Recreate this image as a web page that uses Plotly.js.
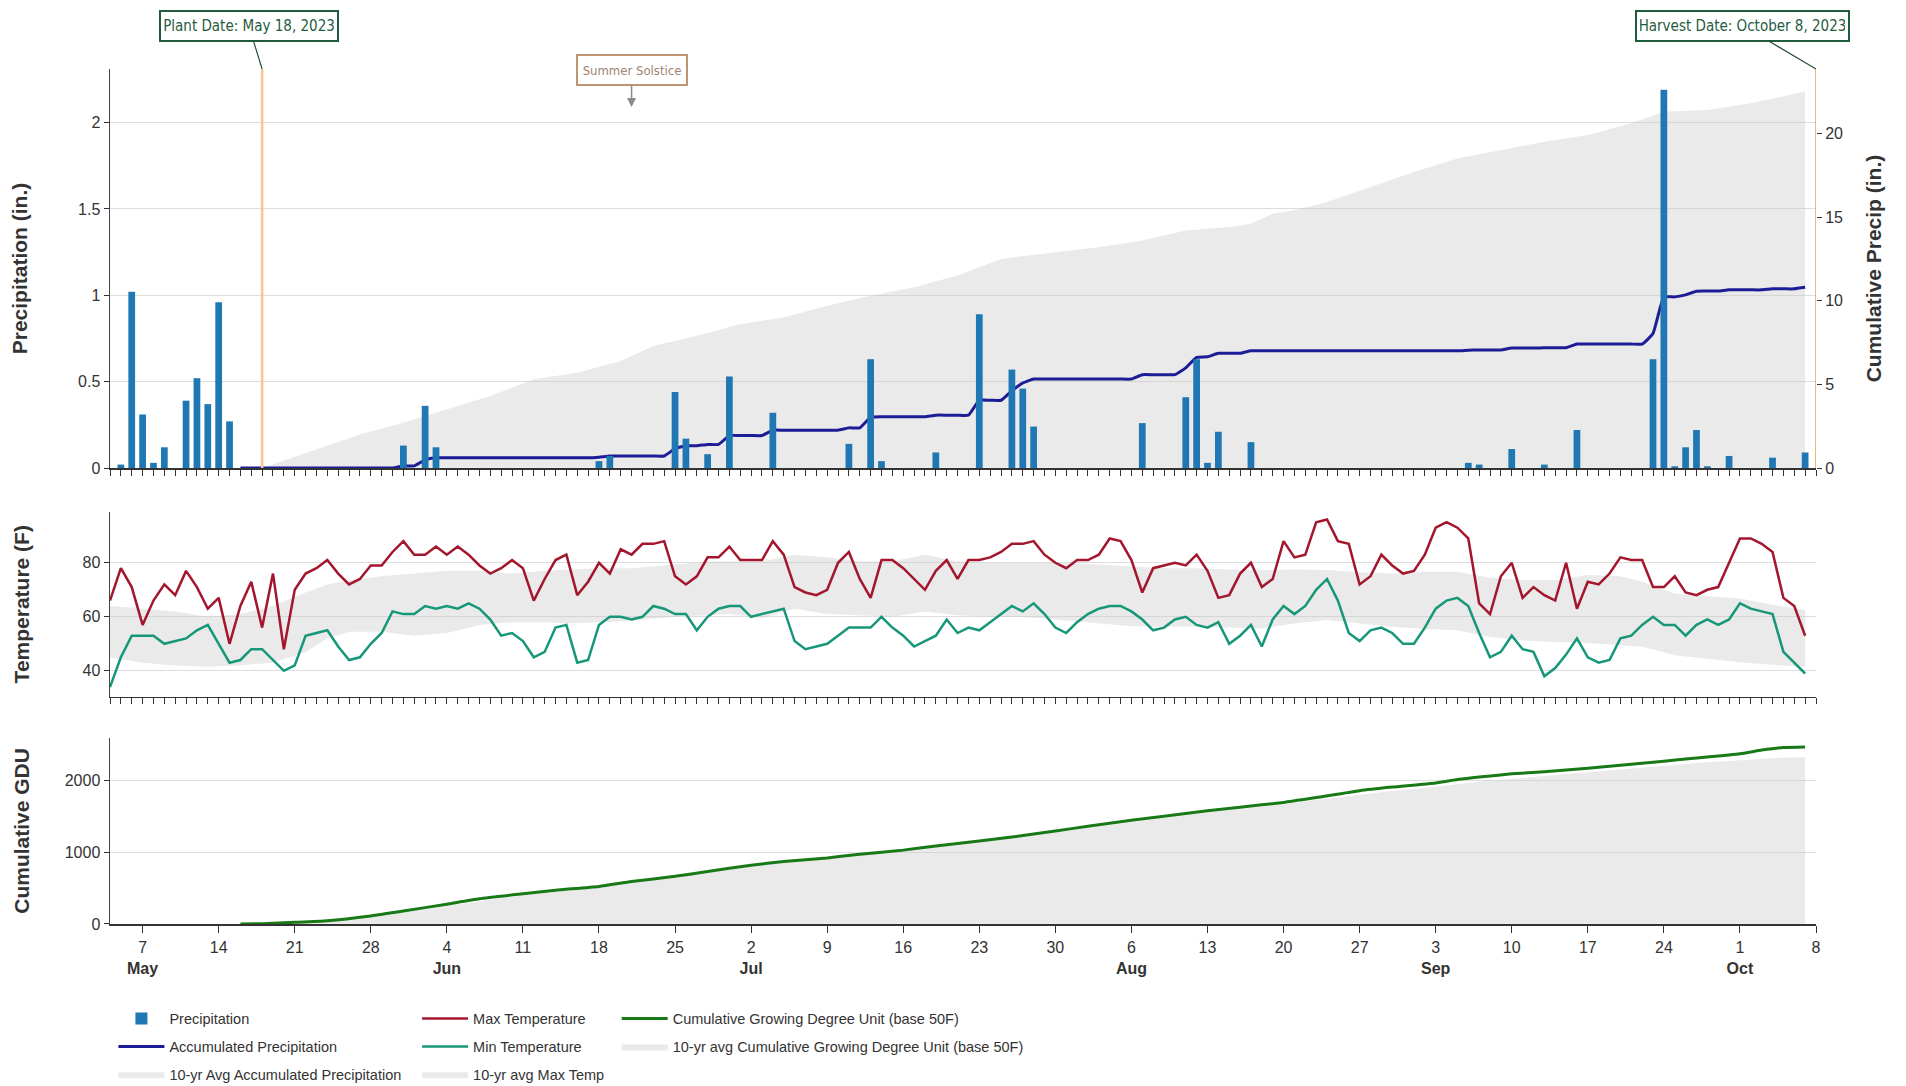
<!DOCTYPE html>
<html><head><meta charset="utf-8">
<script src="https://cdn.plot.ly/plotly-3.0.1.min.js"></script>
<style>html,body{margin:0;padding:0;background:#fff;}#chart{width:1906px;height:1086px;}</style>
</head><body><div id="chart"></div>
<script>
// ---------------- DATA ----------------
const seasonStart = '2023-05-04';   // day offset 0
const plantDate = '2023-05-18';
const harvestDate = '2023-10-08';
const solsticeDate = '2023-06-21';
const axisEnd = '2023-10-08';

// Daily precipitation (in.), rainy days only
const precipDates = ['2023-05-05','2023-05-06','2023-05-07','2023-05-08','2023-05-09','2023-05-11','2023-05-12','2023-05-13','2023-05-14','2023-05-15',
  '2023-05-31','2023-06-02','2023-06-03','2023-06-18','2023-06-19','2023-06-25','2023-06-26','2023-06-28','2023-06-30',
  '2023-07-04','2023-07-11','2023-07-13','2023-07-14','2023-07-19','2023-07-23','2023-07-26','2023-07-27','2023-07-28',
  '2023-08-07','2023-08-11','2023-08-12','2023-08-13','2023-08-14','2023-08-17',
  '2023-09-06','2023-09-07','2023-09-10','2023-09-13','2023-09-16','2023-09-23','2023-09-24','2023-09-25','2023-09-26','2023-09-27','2023-09-28','2023-09-30',
  '2023-10-04','2023-10-07'];
const precipValues = [0.02,1.02,0.31,0.03,0.12,0.39,0.52,0.37,0.96,0.27,
  0.13,0.36,0.12,0.04,0.07,0.44,0.17,0.08,0.53,
  0.32,0.14,0.63,0.04,0.09,0.89,0.57,0.46,0.24,
  0.26,0.41,0.63,0.03,0.21,0.15,
  0.03,0.02,0.11,0.02,0.22,0.63,2.19,0.01,0.12,0.22,0.01,0.07,
  0.06,0.09];

// Accumulated precipitation (in.), daily from day offset 12 (May 16)
const accumStartOffset = 12;
const accumPrecip = [
  0,0,0,0,0,0,0,0,0,0,0,0,0,0,0,
  0.13,0.13,0.49,0.61,
  0.61,0.61,0.61,0.61,0.61,0.61,0.61,0.61,0.61,0.61,0.61,0.61,0.61,0.61,
  0.65,0.72,0.72,0.72,0.72,0.72,0.72,
  1.16,1.33,1.33,1.41,1.41,1.94,1.94,1.94,1.94,
  2.26,2.26,2.26,2.26,2.26,2.26,2.26,
  2.40,2.40,3.03,3.07,3.07,3.07,3.07,3.07,3.16,3.16,3.16,3.16,
  4.05,4.05,4.05,4.62,5.08,5.32,5.32,5.32,5.32,5.32,5.32,5.32,5.32,5.32,5.32,
  5.58,5.58,5.58,5.58,5.99,6.62,6.65,6.86,6.86,6.86,7.01,
  7.01,7.01,7.01,7.01,7.01,7.01,7.01,7.01,7.01,7.01,7.01,7.01,7.01,7.01,7.01,7.01,7.01,7.01,7.01,
  7.04,7.06,7.06,7.06,7.17,7.17,7.17,7.19,7.19,7.19,7.41,7.41,7.41,7.41,7.41,7.41,7.41,
  8.04,10.22,10.23,10.35,10.57,10.58,10.58,10.65,10.65,10.65,10.65,10.71,10.71,10.71,10.80];

// 10-yr average accumulated precipitation (in.)
const avgAccumDays = [14,19,23,27,31,35,39,43,47,50,54,58,62,66,70,74,78,82,87,91,95,99,103,105,107,109,112,116,120,124,128,132,136,140,143,147,151,156];
const avgAccumValues = [0,1.1,2.0,2.7,3.5,4.3,5.3,5.7,6.4,7.3,7.9,8.6,9.0,9.7,10.3,10.8,11.5,12.5,12.9,13.2,13.6,14.2,14.4,14.6,15.2,15.4,15.9,16.8,17.7,18.5,19.0,19.5,19.9,20.6,21.3,21.4,21.8,22.5];

// Daily max / min temperature (F), from day offset 0 (May 4) to 156 (Oct 7)
const maxTemp = [66,78,71,57,66,72,68,77,71,63,67,50,64,73,56,76,48,70,76,78,
  81,76,72,74,79,79,84,88,83,83,86,83,86,83,79,76,78,81,78,66,
  74,81,83,68,73,80,76,85,83,87,87,88,75,72,75,82,82,86,81,81,
  81,88,83,71,69,68,70,80,84,74,67,81,81,78,74,70,77,81,74,81,
  81,82,84,87,87,88,83,80,78,81,81,83,89,88,81,69,78,79,80,79,
  83,77,67,68,76,80,71,74,88,82,83,95,96,88,87,72,75,83,79,76,
  77,83,93,95,93,89,65,61,75,80,67,71,68,66,80,63,73,72,76,82,
  81,81,71,71,75,69,68,70,71,80,89,89,87,84,67,64,53];
const minTemp = [34,45,53,53,53,50,51,52,55,57,50,43,44,48,48,44,40,42,53,54,
  55,49,44,45,50,54,62,61,61,64,63,64,63,65,63,59,53,54,51,45,
  47,56,57,43,44,57,60,60,59,60,64,63,61,61,55,60,63,64,64,60,
  61,62,63,51,48,49,50,53,56,56,56,60,56,53,49,51,53,59,54,56,
  55,58,61,64,62,65,61,56,54,58,61,63,64,64,62,59,55,56,59,60,
  57,56,58,50,53,57,49,59,64,61,64,70,74,66,54,51,55,56,54,50,
  50,56,63,66,67,64,54,45,47,53,48,47,38,41,46,52,45,43,44,52,
  53,57,60,57,57,53,57,59,57,59,65,63,62,61,47,43,39];

// 10-yr average max / min temperature band (F)
const avgTempDays = [0,3,6,9,12,15,18,20,22,25,28,31,34,37,40,42,45,48,52,55,57,60,63,66,69,72,75,78,81,84,87,90,94,97,100,103,106,109,112,115,118,121,124,127,130,133,136,139,141,144,147,150,153,156];
const avgMaxTemp = [64,63,62,60,61,64,69,72,73.5,75,76,77,77,76,77,77.5,78,78,79.5,80.5,80.5,80.5,83,82,80.5,80.5,83,80.5,80,80,80,79.5,78.5,78,78,77.5,77.3,77.5,77.3,76.5,76,76.7,76.7,74.5,73.6,73.6,75.5,75,73,68.6,67.6,66.8,64.5,62.5];
const avgMinTemp = [45,43,42,41.5,42,43,47,52,54.5,54.5,53,54,57,58,58,57.5,58,58.5,60,60.5,61,59.5,63,61,60.6,60,62,60.6,60,60,59,58,56.5,56.3,56.3,56,55.7,57.5,58.8,57.5,56.3,55.5,55,52.5,51.2,50.7,50.3,49.5,48.9,45.8,44.5,43.2,42.2,41.5];

// Cumulative GDU (base 50F) and 10-yr average
const gduDays = [12,14,17,20,24,27,31,34,38,41,45,48,52,55,59,62,66,69,73,76,80,83,87,90,94,97,101,104,108,111,115,118,122,124,126,129,132,136,139,143,146,150,152,154,156];
const gduValues = [0,5,23,45,112,180,276,350,420,470,523,590,663,730,818,870,920,970,1028,1085,1154,1210,1294,1360,1444,1500,1575,1625,1692,1760,1855,1905,1963,2010,2045,2089,2120,2168,2210,2266,2310,2369,2420,2455,2463];
const avgGduDays = [14,17,20,24,27,31,34,38,41,45,48,52,55,59,62,66,69,73,76,80,83,87,90,94,97,101,104,108,111,115,118,122,124,126,129,132,136,139,143,146,150,152,154,156];
const avgGduValues = [0,15,40,95,160,250,320,400,450,510,570,645,710,800,860,910,960,1020,1075,1140,1200,1280,1340,1420,1480,1550,1600,1665,1725,1800,1850,1910,1950,1980,2020,2060,2110,2150,2200,2240,2280,2300,2315,2325];

// Axis ticks
const precipTicks = [0,0.5,1,1.5,2];
const cumPrecipTicks = [0,5,10,15,20];
const tempTicks = [40,60,80];
const gduTicks = [0,1000,2000];
const weekTickDates = ['2023-05-07','2023-05-14','2023-05-21','2023-05-28','2023-06-04','2023-06-11','2023-06-18','2023-06-25','2023-07-02','2023-07-09','2023-07-16','2023-07-23','2023-07-30','2023-08-06','2023-08-13','2023-08-20','2023-08-27','2023-09-03','2023-09-10','2023-09-17','2023-09-24','2023-10-01','2023-10-08'];
const weekTickLabels = ['7<br><b>May</b>','14','21','28','4<br><b>Jun</b>','11','18','25','2<br><b>Jul</b>','9','16','23','30','6<br><b>Aug</b>','13','20','27','3<br><b>Sep</b>','10','17','24','1<br><b>Oct</b>','8'];

// ---------------- HELPERS ----------------
const DAY_MS = 86400000;
const startMs = Date.UTC(2023, 4, 4);
function offsetToDate(off) { return new Date(startMs + off * DAY_MS).toISOString().slice(0, 10); }
function seq(startOff, n) { const a = []; for (let i = 0; i < n; i++) a.push(offsetToDate(startOff + i)); return a; }

const COND = '"DejaVu Sans Condensed", "Liberation Sans Narrow", sans-serif';
const SANS = '"Liberation Sans", Arial, sans-serif';
const titleFont = {family: SANS, size: 21, color: '#333', weight: 700};
const tickFont = {family: SANS, size: 16, color: '#333'};
const FILL = 'rgba(200,200,200,0.38)';

// ---------------- TRACES ----------------
const traces = [
  {x: avgAccumDays.map(offsetToDate), y: avgAccumValues, type: 'scatter', mode: 'lines', xaxis: 'x', yaxis: 'y',
   line: {width: 0, color: 'rgba(0,0,0,0)'}, fill: 'tozeroy', fillcolor: FILL, name: '10-yr Avg Accumulated Precipitation',
   legend: 'legend', legendgroup: 'g1', legendrank: 3},
  {x: seq(accumStartOffset, accumPrecip.length), y: accumPrecip, type: 'scatter', mode: 'lines', xaxis: 'x', yaxis: 'y',
   line: {color: '#1c1c96', width: 3, shape: 'spline', smoothing: 0.4}, name: 'Accumulated Precipitation',
   legend: 'legend', legendgroup: 'g2', legendrank: 2},
  {x: precipDates, y: precipValues, type: 'bar', xaxis: 'x', yaxis: 'y2', width: 0.62 * DAY_MS,
   marker: {color: '#1f77b4'}, name: 'Precipitation', legend: 'legend', legendgroup: 'g3', legendrank: 1},

  {x: avgTempDays.map(offsetToDate), y: avgMinTemp, type: 'scatter', mode: 'lines', xaxis: 'x2', yaxis: 'y3',
   line: {width: 0, color: 'rgba(0,0,0,0)'}, showlegend: false, legend: 'legend2', legendgroup: 'g4', legendrank: 3,
   name: '10-yr avg Min Temp'},
  {x: avgTempDays.map(offsetToDate), y: avgMaxTemp, type: 'scatter', mode: 'lines', xaxis: 'x2', yaxis: 'y3',
   line: {width: 0, color: 'rgba(0,0,0,0)'}, fill: 'tonexty', fillcolor: FILL, name: '10-yr avg Max Temp',
   legend: 'legend2', legendgroup: 'g4', legendrank: 3},
  {x: seq(0, minTemp.length), y: minTemp, type: 'scatter', mode: 'lines', xaxis: 'x2', yaxis: 'y3',
   line: {color: '#17977a', width: 2.5}, name: 'Min Temperature', legend: 'legend2', legendgroup: 'g5', legendrank: 2},
  {x: seq(0, maxTemp.length), y: maxTemp, type: 'scatter', mode: 'lines', xaxis: 'x2', yaxis: 'y3',
   line: {color: '#a3162d', width: 2.5}, name: 'Max Temperature', legend: 'legend2', legendgroup: 'g6', legendrank: 1},

  {x: avgGduDays.map(offsetToDate), y: avgGduValues, type: 'scatter', mode: 'lines', xaxis: 'x3', yaxis: 'y4',
   line: {width: 0, color: 'rgba(0,0,0,0)'}, fill: 'tozeroy', fillcolor: FILL,
   name: '10-yr avg Cumulative Growing Degree Unit (base 50F)', legend: 'legend3', legendgroup: 'g7', legendrank: 2},
  {x: gduDays.map(offsetToDate), y: gduValues, type: 'scatter', mode: 'lines', xaxis: 'x3', yaxis: 'y4',
   line: {color: '#177a17', width: 3, shape: 'spline', smoothing: 0.5}, name: 'Cumulative Growing Degree Unit (base 50F)',
   legend: 'legend3', legendgroup: 'g8', legendrank: 1}
];

// ---------------- LAYOUT ----------------
const dailyX = (anchor) => ({
  type: 'date', anchor: anchor, domain: [0, 1], range: [seasonStart, axisEnd],
  tick0: seasonStart, dtick: DAY_MS, ticks: 'outside', ticklen: 6, tickwidth: 1, tickcolor: '#333',
  showticklabels: false, showgrid: false, zeroline: false, showline: true, linecolor: '#333', linewidth: 1.5
});
const yBase = {ticks: 'outside', ticklen: 5, tickcolor: '#333', tickfont: tickFont, zeroline: false,
  showline: true, linecolor: '#444', linewidth: 1.5, showgrid: true, gridcolor: '#dddddd', gridwidth: 1};

const legendBase = {orientation: 'v', xanchor: 'left', yanchor: 'top', y: -0.092, traceorder: 'grouped',
  font: {family: SANS, size: 14.5, color: '#333'}, bgcolor: 'rgba(0,0,0,0)', itemwidth: 46, tracegroupgap: 6};

const layout = {
  width: 1906, height: 1086,
  margin: {l: 110, r: 90, t: 69, b: 162, autoexpand: false},
  paper_bgcolor: '#fff', plot_bgcolor: '#fff',
  font: {family: SANS, size: 16, color: '#333'},
  hovermode: false,
  barmode: 'overlay',
  xaxis: dailyX('y'),
  yaxis: Object.assign({}, yBase, {domain: [0.5333, 1], anchor: 'x', side: 'right', range: [0, 23.85],
    tickvals: cumPrecipTicks, showgrid: false, showline: false,
    title: {text: 'Cumulative Precip (in.)', font: titleFont, standoff: 24}}),
  yaxis2: Object.assign({}, yBase, {domain: [0.5333, 1], anchor: 'x', overlaying: 'y', side: 'left', range: [0, 2.31],
    tickvals: precipTicks, title: {text: 'Precipitation (in.)', font: titleFont, standoff: 44}}),
  xaxis2: dailyX('y3'),
  yaxis3: Object.assign({}, yBase, {domain: [0.2658, 0.4822], anchor: 'x2', range: [30.4, 98.9],
    tickvals: tempTicks, title: {text: 'Temperature (F)', font: titleFont, standoff: 47}}),
  xaxis3: {type: 'date', anchor: 'y4', domain: [0, 1], range: [seasonStart, axisEnd],
    tickvals: weekTickDates, ticktext: weekTickLabels, ticks: 'outside', ticklen: 7, tickcolor: '#333',
    ticklabelstandoff: 1,
    tickfont: tickFont, showgrid: false, zeroline: false, showline: true, linecolor: '#333', linewidth: 1.5},
  yaxis4: Object.assign({}, yBase, {domain: [0, 0.2177], anchor: 'x3', range: [0, 2590],
    tickvals: gduTicks, title: {text: 'Cumulative GDU', font: titleFont, standoff: 29}}),
  legend: Object.assign({}, legendBase, {x: 0.002}),
  legend2: Object.assign({}, legendBase, {x: 0.18}),
  legend3: Object.assign({}, legendBase, {x: 0.297}),
  shapes: [
    {type: 'line', xref: 'x', yref: 'y domain', x0: plantDate, x1: plantDate, y0: 0, y1: 1,
     line: {color: '#f8c592', width: 2.5}},
    {type: 'line', xref: 'x', yref: 'y domain', x0: harvestDate, x1: harvestDate, y0: 0, y1: 1,
     line: {color: '#e9a546', width: 1.5}}
  ],
  annotations: [
    {x: plantDate, xref: 'x', y: 1, yref: 'paper', text: 'Plant Date: May 18, 2023', showarrow: true,
     arrowhead: 0, arrowwidth: 1.2, arrowcolor: '#2b4f3b', ax: -13.5, ay: -43.5,
     font: {family: COND, size: 15, color: '#1f5c3d'}, bgcolor: '#fff', bordercolor: '#1f5c3d', borderwidth: 2,
     borderpad: 3, width: 170, height: 22},
    {x: harvestDate, xref: 'x', y: 1, yref: 'paper', text: 'Harvest Date: October 8, 2023', showarrow: true,
     arrowhead: 0, arrowwidth: 1.2, arrowcolor: '#2b4f3b', ax: -73.5, ay: -43.5,
     font: {family: COND, size: 15, color: '#1f5c3d'}, bgcolor: '#fff', bordercolor: '#1f5c3d', borderwidth: 2,
     borderpad: 3, width: 205, height: 22},
    {x: solsticeDate, xref: 'x', y: 0.9556, yref: 'paper', text: 'Summer Solstice', showarrow: true,
     arrowhead: 2, arrowsize: 1.2, arrowwidth: 1.5, arrowcolor: '#8a8a8a', ax: 0, ay: -36.5,
     font: {family: COND, size: 13, color: '#a08472'}, bgcolor: '#fff', bordercolor: '#bf9470', borderwidth: 2,
     borderpad: 4, width: 100, height: 20}
  ]
};

Plotly.newPlot('chart', traces, layout, {displayModeBar: false, staticPlot: true});
</script>
</body></html>
